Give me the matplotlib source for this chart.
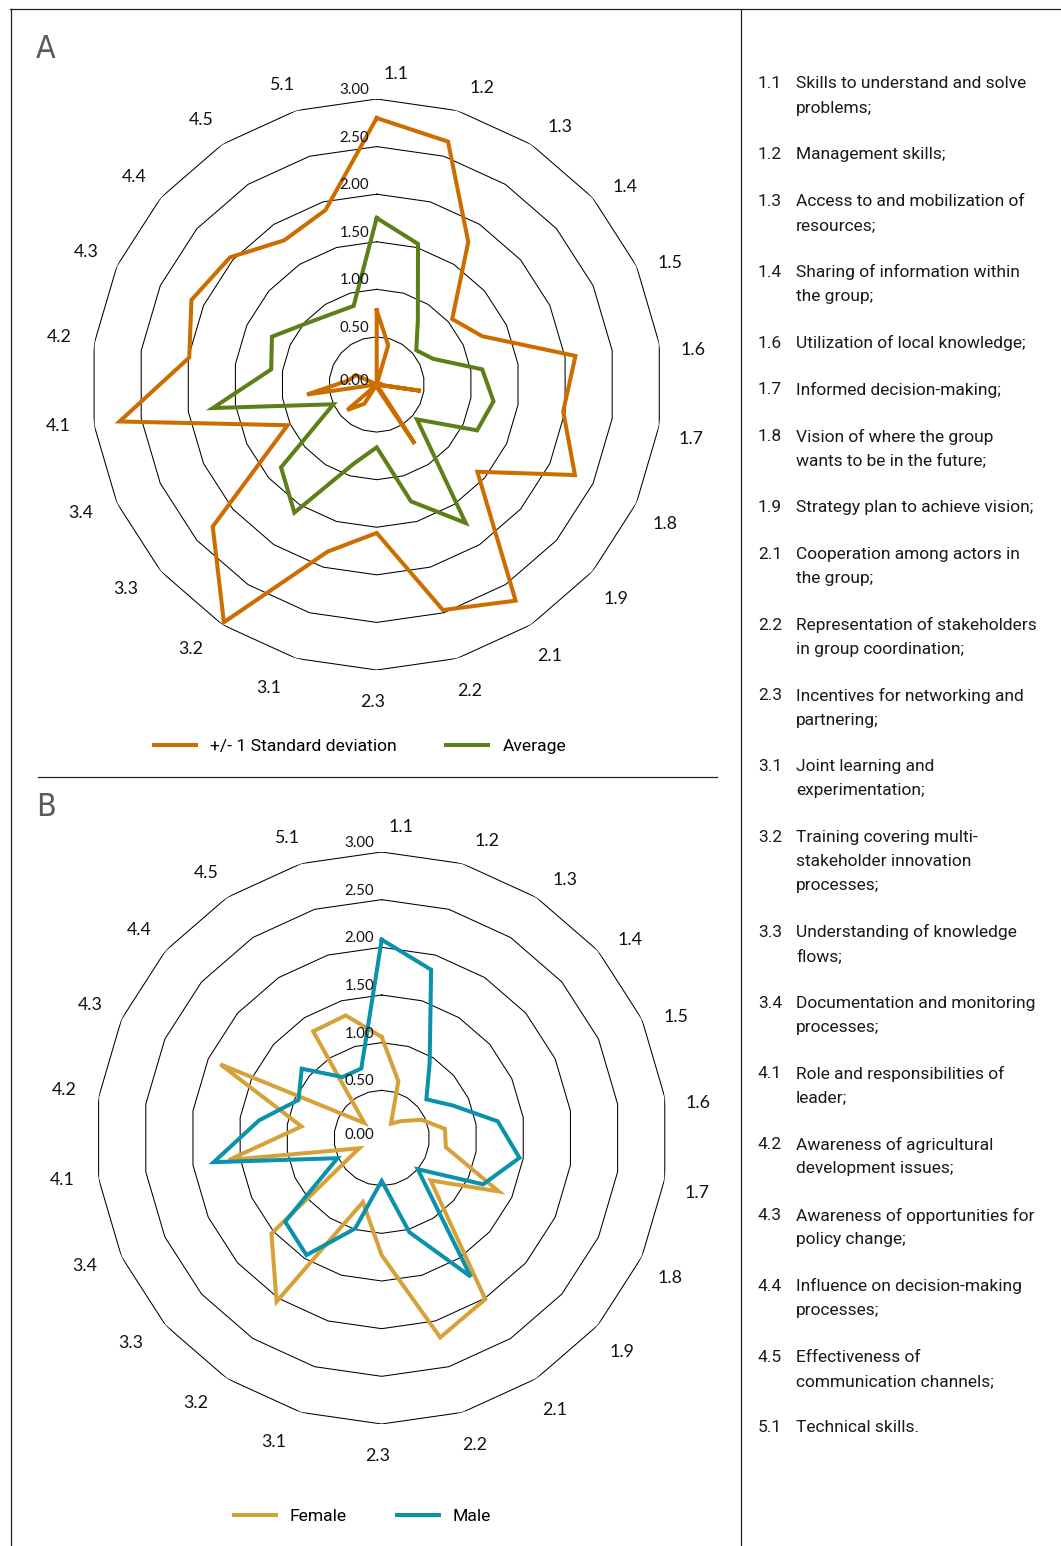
import numpy as np
import matplotlib
matplotlib.use("Agg")
import matplotlib.pyplot as plt
from matplotlib.lines import Line2D

# ---------------- data ----------------
categories = ['1.1', '1.2', '1.3', '1.4', '1.5', '1.6', '1.7', '1.8', '1.9',
              '2.1', '2.2', '2.3', '3.1', '3.2', '3.3', '3.4',
              '4.1', '4.2', '4.3', '4.4', '4.5', '5.1']

# Panel A
sd_upper = [2.80, 2.66, 1.78, 1.05, 1.22, 2.11, 1.98, 2.29, 1.40, 2.70, 2.47,
            1.56, 1.83, 2.97, 2.28, 1.03, 2.73, 1.99, 2.14, 2.04, 1.80, 1.91]
sd_lower = [0.78, 0.43, 0.00, 0.00, 0.00, 0.00, 0.47, 0.00, 0.00, 0.74, 0.05,
            0.00, 0.00, 0.24, 0.41, 0.00, 0.74, 0.30, 0.24, 0.00, 0.00, 0.00]
average = [1.75, 1.54, 0.80, 0.55, 0.65, 1.12, 1.24, 1.16, 0.56, 1.73, 1.28,
           0.66, 0.87, 1.60, 1.33, 0.50, 1.74, 1.12, 1.21, 0.98, 0.88, 0.86]

# Panel B
female = [1.06, 0.62, 0.18, 0.27, 0.46, 0.67, 0.68, 1.35, 0.68, 2.01, 2.18,
          1.23, 0.70, 2.04, 1.53, 0.26, 1.62, 0.85, 1.86, 0.24, 1.33, 1.34]
male = [2.08, 1.84, 0.93, 0.62, 0.82, 1.23, 1.46, 1.17, 0.50, 1.73, 1.03,
        0.45, 0.99, 1.46, 1.34, 0.51, 1.78, 1.30, 0.96, 1.11, 0.76, 0.76]

ring_levels = [0.5, 1.0, 1.5, 2.0, 2.5, 3.0]
tick_values = [0.0, 0.5, 1.0, 1.5, 2.0, 2.5, 3.0]
tick_labels = ['0.00', '0.50', '1.00', '1.50', '2.00', '2.50', '3.00']

legend_a = ['+/- 1 Standard deviation', 'Average']
legend_b = ['Female', 'Male']

key_numbers = ['1.1', '1.2', '1.3', '1.4', '1.6', '1.7', '1.8', '1.9', '2.1',
               '2.2', '2.3', '3.1', '3.2', '3.3', '3.4', '4.1', '4.2', '4.3',
               '4.4', '4.5', '5.1']
key_texts = [
    ['Skills to understand and solve', 'problems;'],
    ['Management skills;'],
    ['Access to and mobilization of', 'resources;'],
    ['Sharing of information within', 'the group;'],
    ['Utilization of local knowledge;'],
    ['Informed decision-making;'],
    ['Vision of where the group', 'wants to be in the future;'],
    ['Strategy plan to achieve vision;'],
    ['Cooperation among actors in', 'the group;'],
    ['Representation of stakeholders', 'in group coordination;'],
    ['Incentives for networking and', 'partnering;'],
    ['Joint learning and', 'experimentation;'],
    ['Training covering multi-', 'stakeholder innovation', 'processes;'],
    ['Understanding of knowledge', 'flows;'],
    ['Documentation and monitoring', 'processes;'],
    ['Role and responsibilities of', 'leader;'],
    ['Awareness of agricultural', 'development issues;'],
    ['Awareness of opportunities for', 'policy change;'],
    ['Influence on decision-making', 'processes;'],
    ['Effectiveness of', 'communication channels;'],
    ['Technical skills.'],
]

# ---------------- style ----------------
C_ORANGE = '#CC6D00'
C_GREEN = '#5C7F18'
C_GOLD = '#D6A238'
C_BLUE = '#0A92AB'
CHART_FONT = ['Lato', 'DejaVu Sans']
PANEL_FONT = ['Roboto', 'DejaVu Sans']
TITLE_FONT = ['DejaVu Sans']

W, H = 1061, 1546
fig = plt.figure(figsize=(W / 100, H / 100), dpi=100)
fig.patch.set_facecolor('white')

n = len(categories)
theta = np.arange(n) * 2 * np.pi / n
theta_c = np.append(theta, theta[0])


def closed(vals):
    return np.append(np.asarray(vals, float), vals[0])


def make_radar(cx, cy, rad):
    ax = fig.add_axes([(cx - rad) / W, 1 - (cy + rad) / H, 2 * rad / W, 2 * rad / H],
                      projection='polar')
    ax.set_theta_zero_location('N')
    ax.set_theta_direction(-1)
    ax.set_ylim(0, 3)
    ax.set_xticks([])
    ax.set_yticks([])
    ax.grid(False)
    ax.spines['polar'].set_visible(False)
    ax.patch.set_alpha(0)
    for lv in ring_levels:
        ax.plot(theta_c, [lv] * (n + 1), color='black', lw=0.75, zorder=1)
    for v, lab in zip(tick_values, tick_labels):
        dy = 2.5 if v == 0 else 6.5
        ax.annotate(lab, xy=(0, v), xytext=(-16, dy), textcoords='offset points',
                    ha='center', va='center', fontsize=10.8, family=CHART_FONT,
                    color='#111111', annotation_clip=False, zorder=5)
    for i, (t, lab) in enumerate(zip(theta, categories)):
        if i < n // 2:
            ha, dx = 'left', 0.0
        elif i == n // 2:
            ha, dx = 'center', 2.0
        else:
            ha, dx = 'right', -2.0
        ax.annotate(lab, xy=(t + np.deg2rad(1.2), 3.215),
                    xytext=(dx, 6.0 * np.cos(t) - 2.5), textcoords='offset points',
                    ha=ha, va='center', fontsize=12.8, family=CHART_FONT,
                    color='#111111', annotation_clip=False)
    return ax


LW = 2.9

# Panel A
axA = make_radar(376.7, 384.5, 285.5)
hA1, = axA.plot(theta_c, closed(sd_upper), color=C_ORANGE, lw=LW, zorder=3,
                solid_joinstyle='miter')
axA.plot(theta_c, closed(sd_lower), color=C_ORANGE, lw=LW, zorder=3,
         solid_joinstyle='miter')
hA2, = axA.plot(theta_c, closed(average), color=C_GREEN, lw=LW, zorder=4,
                solid_joinstyle='miter')

# Panel B
axB = make_radar(381.7, 1138, 286)
hB1, = axB.plot(theta_c, closed(female), color=C_GOLD, lw=LW, zorder=3,
                solid_joinstyle='miter')
hB2, = axB.plot(theta_c, closed(male), color=C_BLUE, lw=LW, zorder=4,
                solid_joinstyle='miter')

leg_kw = dict(loc='center', ncol=2, frameon=False, handlelength=2.4,
              handletextpad=0.8, columnspacing=2.85, borderpad=0,
              borderaxespad=0, prop={'family': PANEL_FONT, 'size': 12.6})
fig.legend([hA1, hA2], legend_a, bbox_to_anchor=(360 / W, 1 - 746 / H), **leg_kw)
fig.legend([hB1, hB2], legend_b, bbox_to_anchor=(362.5 / W, 1 - 1516 / H), **leg_kw)

# Panel letters
fig.text(46 / W, 1 - 50 / H, 'A', ha='center', va='center', fontsize=23,
         family=TITLE_FONT, fontstretch='condensed', color='#5a5a5a')
fig.text(46 / W, 1 - 808 / H, 'B', ha='center', va='center', fontsize=23,
         family=TITLE_FONT, fontstretch='condensed', color='#5a5a5a')

# Frame lines
def fline(x0, y0, x1, y1):
    fig.add_artist(Line2D([x0 / W, x1 / W], [1 - y0 / H, 1 - y1 / H],
                          color='#222222', lw=0.9))

fline(10, 8.5, W, 8.5)
fline(10.5, 8.5, 10.5, H)
fline(740.5, 8.5, 740.5, H)
fline(38, 776.5, 717, 776.5)

# Key on the right
y = 84.0
for num, lines in zip(key_numbers, key_texts):
    fig.text(758 / W, 1 - y / H, num, ha='left', va='center', fontsize=12.5,
             family=PANEL_FONT, color='#1a1a1a')
    for k, ln in enumerate(lines):
        fig.text(796 / W, 1 - (y + 24 * k) / H, ln, ha='left', va='center',
                 fontsize=12.5, family=PANEL_FONT, color='#1a1a1a')
    y += 24 * len(lines) + 22.8

fig.savefig('out.png', dpi=100, facecolor='white')
